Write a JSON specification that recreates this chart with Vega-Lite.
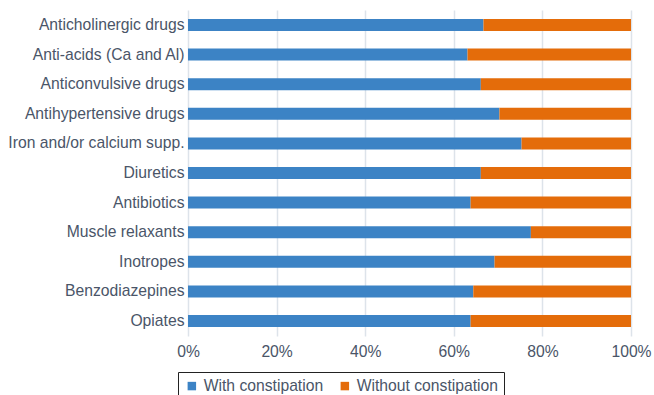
{
  "$schema": "https://vega.github.io/schema/vega-lite/v6.json",
  "width": 443,
  "height": 326,
  "autosize": "none",
  "padding": {"left": 188, "top": 10, "right": 23, "bottom": 59},
  "background": "white",
  "data": {
    "values": [
      {"drug": "Anticholinergic drugs", "group": "With constipation", "pct": 66.7},
      {"drug": "Anticholinergic drugs", "group": "Without constipation", "pct": 33.3},
      {"drug": "Anti-acids (Ca and Al)", "group": "With constipation", "pct": 63.1},
      {"drug": "Anti-acids (Ca and Al)", "group": "Without constipation", "pct": 36.9},
      {"drug": "Anticonvulsive drugs", "group": "With constipation", "pct": 66.1},
      {"drug": "Anticonvulsive drugs", "group": "Without constipation", "pct": 33.9},
      {"drug": "Antihypertensive drugs", "group": "With constipation", "pct": 70.3},
      {"drug": "Antihypertensive drugs", "group": "Without constipation", "pct": 29.7},
      {"drug": "Iron and/or calcium supp.", "group": "With constipation", "pct": 75.3},
      {"drug": "Iron and/or calcium supp.", "group": "Without constipation", "pct": 24.7},
      {"drug": "Diuretics", "group": "With constipation", "pct": 66.1},
      {"drug": "Diuretics", "group": "Without constipation", "pct": 33.9},
      {"drug": "Antibiotics", "group": "With constipation", "pct": 63.8},
      {"drug": "Antibiotics", "group": "Without constipation", "pct": 36.2},
      {"drug": "Muscle relaxants", "group": "With constipation", "pct": 77.4},
      {"drug": "Muscle relaxants", "group": "Without constipation", "pct": 22.6},
      {"drug": "Inotropes", "group": "With constipation", "pct": 69.2},
      {"drug": "Inotropes", "group": "Without constipation", "pct": 30.8},
      {"drug": "Benzodiazepines", "group": "With constipation", "pct": 64.4},
      {"drug": "Benzodiazepines", "group": "Without constipation", "pct": 35.6},
      {"drug": "Opiates", "group": "With constipation", "pct": 63.8},
      {"drug": "Opiates", "group": "Without constipation", "pct": 36.2}
    ]
  },
  "mark": {"type": "bar", "height": 12},
  "encoding": {
    "y": {
      "field": "drug",
      "type": "nominal",
      "sort": null,
      "scale": {"paddingInner": 0.6, "paddingOuter": 0.307},
      "axis": {
        "title": null,
        "ticks": false,
        "domain": false,
        "labelFont": "Liberation Sans",
        "labelFontSize": 15.7,
        "labelColor": "#4A5568",
        "labelPadding": 4,
        "labelLimit": 220
      }
    },
    "x": {
      "field": "pct",
      "type": "quantitative",
      "stack": "normalize",
      "scale": {"domain": [0, 1]},
      "axis": {
        "title": null,
        "format": ".0%",
        "values": [0, 0.2, 0.4, 0.6, 0.8, 1],
        "ticks": false,
        "domain": false,
        "grid": true,
        "gridColor": "#DDE3EA",
        "gridWidth": 1.5,
        "labelFlush": false,
        "labelFont": "Liberation Sans",
        "labelFontSize": 15.7,
        "labelColor": "#4A5568",
        "labelPadding": 8
      }
    },
    "color": {
      "field": "group",
      "type": "nominal",
      "scale": {"domain": ["With constipation", "Without constipation"], "range": ["#3C83C5", "#E46C0A"]},
      "legend": {
        "title": null,
        "orient": "none",
        "direction": "horizontal",
        "legendX": -10,
        "legendY": 362,
        "symbolType": "square",
        "symbolSize": 72,
        "symbolStrokeWidth": 0,
        "labelFont": "Liberation Sans",
        "labelFontSize": 15.7,
        "labelColor": "#4A5568",
        "labelOffset": 4,
        "columnPadding": 13,
        "strokeColor": "#222222",
        "padding": 6
      }
    },
    "order": {"field": "group", "sort": "ascending"}
  },
  "config": {"view": {"stroke": null}}
}
